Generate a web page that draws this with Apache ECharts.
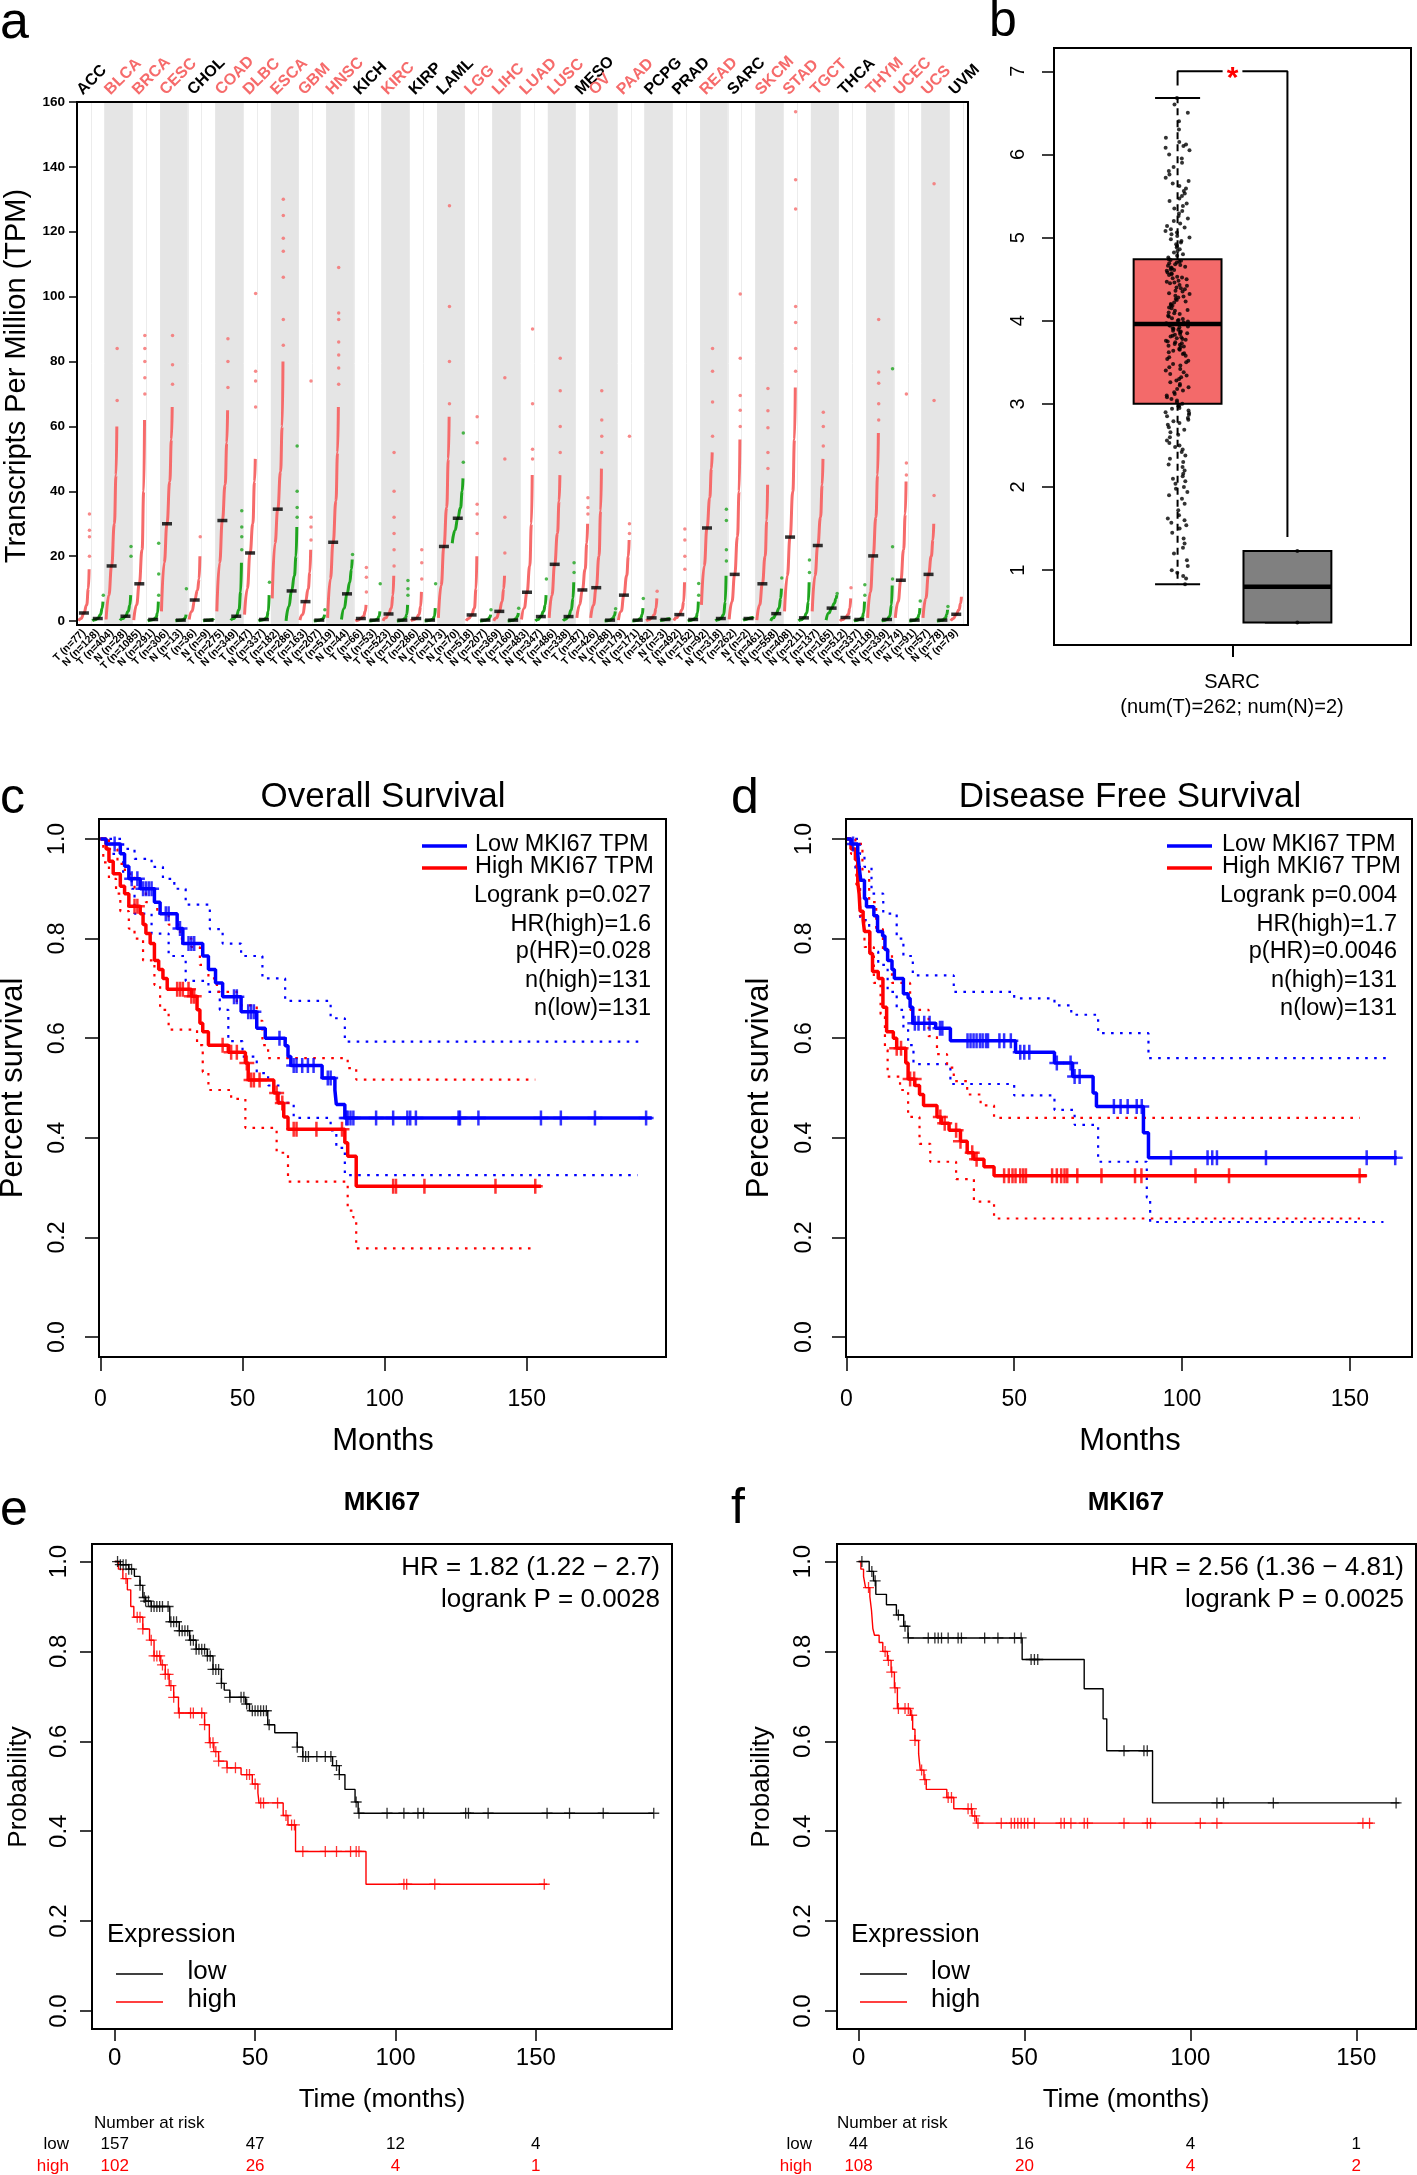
<!DOCTYPE html>
<html><head><meta charset="utf-8">
<script src="https://cdn.jsdelivr.net/npm/echarts@6/dist/echarts.min.js"></script>
<style>html,body{margin:0;padding:0;background:#fff}#c{width:1417px;height:2175px}</style>
</head><body><div id="c"></div>
<script>
// ---------------- DATA ----------------
const cancers = ['ACC','BLCA','BRCA','CESC','CHOL','COAD','DLBC','ESCA','GBM','HNSC','KICH','KIRC','KIRP','LAML','LGG','LIHC','LUAD','LUSC','MESO','OV','PAAD','PCPG','PRAD','READ','SARC','SKCM','STAD','TGCT','THCA','THYM','UCEC','UCS','UVM'];
const cancerHighlighted = [0,1,1,1,0,1,1,1,1,1,0,1,0,0,1,1,1,1,0,1,1,0,0,1,0,1,1,1,0,1,1,1,0];
const cancerColumns = [2,2,2,2,2,2,2,2,2,2,2,2,2,2,2,2,2,2,1,2,2,2,2,2,2,2,2,2,2,2,2,2,1];
const sampleLabels = ['T (n=77)','N (n=128)','T (n=404)','N (n=28)','T (n=1085)','N (n=291)','T (n=306)','N (n=13)','T (n=36)','N (n=9)','T (n=275)','N (n=349)','T (n=47)','N (n=337)','T (n=182)','N (n=286)','T (n=163)','N (n=207)','T (n=519)','N (n=44)','T (n=66)','N (n=53)','T (n=523)','N (n=100)','T (n=286)','N (n=60)','T (n=173)','N (n=70)','T (n=518)','N (n=207)','T (n=369)','N (n=160)','T (n=483)','N (n=347)','T (n=486)','N (n=338)','T (n=87)','T (n=426)','N (n=88)','T (n=179)','N (n=171)','T (n=182)','N (n=3)','T (n=492)','N (n=152)','T (n=92)','N (n=318)','T (n=262)','N (n=2)','T (n=461)','N (n=558)','T (n=408)','N (n=211)','T (n=137)','N (n=165)','T (n=512)','N (n=337)','T (n=118)','N (n=339)','T (n=174)','N (n=91)','T (n=57)','N (n=78)','T (n=79)'];
const quantLevels = [0, 0.25, 0.5, 0.75, 0.9, 0.97];
const colQuantiles = [
[0.1,0.8,2.5,5,10,16],[0.1,0.4,0.8,2,4,6],[0.5,8,17,30,45,60],[0.2,0.8,1.5,3,5,8],
[0.3,5,11.5,22,40,62],[0.1,0.3,0.5,1,2.5,6],[3,18,30,43,56,66],[0.1,0.2,0.3,0.5,1,2],
[0.5,3,6.5,9.5,13,20],[0.1,0.2,0.3,0.4,0.6,0.8],[3,18,31,42,55,65],[0.2,0.8,1.5,3.5,9,18],
[2,10,21,30,43,50],[0.1,0.3,0.5,1,3,8],[7,24,34.5,46,60,80],[0.1,4.5,9.3,14,20,29],
[0.3,2,6,10,15,22],[0.05,0.1,0.3,0.6,1,2],[1,13,24.3,37,52,66],[0.5,4,8.4,12,16,19],
[0.1,0.3,0.8,1.5,3,5],[0.05,0.1,0.3,0.6,1.5,3],[0.1,1,2.2,4,8,14],[0.05,0.1,0.3,0.8,2,5],
[0.1,0.4,0.8,2,4.5,9],[0.05,0.1,0.3,0.6,1.5,4],[1,11,23,35,50,63],[24,28,31.7,35,40,44],
[0.1,0.8,1.9,4,10,20],[0.05,0.1,0.3,0.6,1.2,2],[0.1,1,3,6,10,14],[0.05,0.1,0.3,0.7,1.5,2.5],
[0.5,4,8.9,17,30,45],[0.1,0.5,1.4,3,5,8],[1,8,17.5,27,37,45],[0.1,0.6,1.4,3.5,7,12],
[1,5,9.6,16,24,30],[1,5,10.3,20,34,47],[0.05,0.1,0.3,0.8,1.8,3],[0.3,3,8,14,20,25],
[0.05,0.1,0.3,0.8,2,4],[0.1,0.4,1,2,4,7],[0.2,0.3,0.5,0.7,0.8,0.9],[0.2,1,2,3.5,6,12],
[0.05,0.2,0.5,1,2.5,6],[5,17,28.7,38,47,52],[0.1,0.4,0.8,2,6,14],[0.5,6,14.4,26,40,56],
[0.3,0.5,0.8,1,1.2,1.3],[0.3,5,11.5,20,31,42],[0.1,1,2.3,4,7,10],[3,14,25.9,40,56,72],
[0.1,0.4,1,2.5,6,12],[3,14,23.3,32,42,50],[0.3,2.5,4,5.5,7,8],[0.05,0.5,1.1,2,4,7],
[0.05,0.2,0.5,1,2.5,6],[1,9,20.1,32,45,58],[0.05,0.2,0.5,1.5,5,11],[1,6,12.6,22,33,43],
[0.05,0.1,0.3,0.8,2,4],[1,7,14.4,20,25,30],[0.05,0.1,0.3,0.8,2,3.5],[0.1,0.8,2.1,3.5,5.5,7.5]
];
const colOutliers = [[20,26,28,33],[8],[68,84],[20,23],[70,75,80,84,88],[8,14.5,24],[73,79,88],[10],[26],[],[72,80,87],[22,26,29,34],[66,74,77,101],[12],[85,93,106,114,118,125,130],[32,35,40,54],[25,29,32,74],[3.5],[73,78,82,86,93,95,109],[20.5],[9,13.5,16.5],[11.5],[17,22,27,32,40,52],[8,10,12.5],[13,18,22],[11.5],[67,80,97,128],[49,58],[27,33,36,55,63],[3.5],[21,32,50,75],[4],[50,53,67,90],[13],[52,60,71,81],[15,18],[33,35,38],[52,57,62,71],[3.8],[27,30,57],[7],[9.2],[],[16,20,25,28.4],[8,11.6],[57,67.5,77,84],[18.5,22,31,34.5],[60,65,69.5,81,100.8],[],[47,52,59.6,64.8,71.7],[13.3],[77,84,92,97,127,136,157],[15,18.8],[54,60,64.4],[8.5],[10.3],[8,11.2],[62,67,73.3,76.8,93],[13,22.9,77.8],[45,48.7,70],[6.2],[38.7,68,134.8],[4.5],[]];
const tpmTicks = [0,20,40,60,80,100,120,140,160];

// panel b
const log2Ticks = [1,2,3,4,5,6,7];
const boxStats = [[1,0.83,3.0,3.96,4.74,6.68],[2,0.37,0.37,0.8,1.23,1.23]];
const sarcTumor = [0.83,0.9,0.93,0.97,1.0,1.05,1.12,1.2,1.27,1.32,1.38,1.45,1.5,1.54,1.57,1.6,1.62,1.66,1.72,1.8,1.86,1.9,1.94,1.98,2.0,2.04,2.07,2.1,2.13,2.16,2.2,2.24,2.27,2.3,2.34,2.38,2.42,2.45,2.48,2.5,2.53,2.56,2.6,2.63,2.66,2.69,2.72,2.75,2.77,2.79,2.81,2.83,2.85,2.87,2.89,2.9,2.92,2.94,2.95,2.97,2.98,3.0,
3.02,3.04,3.06,3.08,3.1,3.12,3.14,3.16,3.18,3.2,3.22,3.24,3.26,3.28,3.3,3.32,3.34,3.36,3.38,3.4,3.42,3.44,3.46,3.48,3.5,3.52,3.54,3.56,3.58,3.6,3.61,3.62,3.64,3.65,3.66,3.68,3.69,3.7,3.71,3.72,3.73,3.74,3.75,3.76,3.77,3.78,3.79,3.8,3.81,3.82,3.83,3.84,3.85,3.86,3.87,3.88,3.89,3.9,3.91,3.92,3.93,3.94,3.95,3.96,
3.97,3.98,3.99,4.0,4.01,4.02,4.03,4.05,4.06,4.08,4.09,4.1,4.12,4.13,4.15,4.16,4.18,4.19,4.2,4.22,4.23,4.25,4.26,4.28,4.29,4.3,4.32,4.33,4.35,4.36,4.38,4.39,4.4,4.42,4.43,4.45,4.46,4.47,4.48,4.5,4.51,4.52,4.53,4.55,4.56,4.57,4.58,4.6,4.61,4.62,4.63,4.64,4.65,4.66,4.67,4.68,4.69,4.7,4.71,4.72,4.73,4.74,
4.76,4.78,4.8,4.82,4.84,4.86,4.88,4.9,4.92,4.94,4.96,4.98,5.0,5.02,5.04,5.06,5.08,5.1,5.12,5.14,5.17,5.2,5.23,5.26,5.29,5.32,5.35,5.38,5.41,5.44,5.47,5.5,5.53,5.56,5.59,5.62,5.65,5.68,5.72,5.76,5.8,5.85,5.9,5.95,6.0,6.05,6.08,6.1,6.12,6.15,6.2,6.3,6.4,6.5,6.6,6.68];
const sarcNormal = [1.23,0.37];
const bracketTop = 7, bracketEnds = [6.83, 1.4];

// panels c-f (steps: [month, survival after event])
const monthTicks = [0,50,100,150];
const probTicks = [0,0.2,0.4,0.6,0.8,1.0];
const osLow = [[0,1],[2,0.99],[7,0.97],[8.5,0.945],[10,0.92],[14,0.9],[19,0.873],[21,0.85],[27,0.82],[29,0.79],[36,0.765],[38,0.738],[40.5,0.711],[43,0.683],[49.5,0.653],[55,0.62],[58,0.6],[65,0.585],[66,0.563],[67,0.545],[78,0.52],[82.5,0.496],[83,0.467],[86,0.44],[194,0.44]];
const osLowCensor = [5,11,13,15,16,17,18,23,24,28,31,32,33,47,48,52,53,54,63,68,69,71,73,75,80,81,86.5,87,88,89,97,103,108,109,111,126,126.5,133,155,162,174,192];
const osLowUpper = [[0,1],[8,0.98],[12,0.96],[18,0.944],[22,0.92],[26,0.9],[30,0.868],[38.5,0.819],[43,0.79],[49.5,0.765],[57,0.72],[65,0.675],[81,0.64],[86,0.593],[191,0.593]];
const osLowLower = [[0,1],[3,0.97],[8,0.93],[11,0.9],[12,0.85],[18,0.81],[24,0.765],[30,0.715],[38,0.693],[42,0.657],[45,0.594],[50,0.563],[55,0.53],[59,0.505],[63,0.47],[68,0.44],[81,0.415],[83,0.38],[86,0.325],[189,0.325]];
const osHigh = [[0,1],[2,0.98],[3,0.955],[4.5,0.93],[7,0.905],[8.5,0.89],[10,0.865],[14,0.85],[15,0.828],[16,0.81],[17.5,0.79],[19,0.756],[20.5,0.738],[22,0.72],[23.5,0.698],[32,0.684],[34,0.657],[35,0.63],[36,0.613],[38,0.586],[45,0.572],[51,0.55],[52,0.516],[61,0.49],[62.5,0.47],[64.5,0.442],[66,0.417],[86,0.39],[87,0.363],[90,0.303],[155,0.303]];
const osHighCensor = [12,13,27,28,29,31,32,33,43,46,48,51.5,53,54,56,62,64,68,69,76,85,103,104,114,139,153];
const osHighUpper = [[0,1],[3,0.98],[6,0.95],[8.6,0.93],[12,0.9],[16,0.873],[20,0.85],[24,0.828],[28,0.8],[32,0.783],[35,0.747],[38,0.72],[41,0.693],[48,0.666],[55,0.635],[57,0.586],[59,0.56],[87,0.54],[90,0.517],[153,0.517]];
const osHighLower = [[0,1],[1,0.953],[3,0.92],[5.5,0.89],[7,0.855],[10,0.82],[12,0.8],[15,0.756],[19,0.707],[21,0.657],[24,0.617],[34,0.586],[36,0.532],[38,0.496],[46,0.478],[51,0.42],[62,0.37],[66,0.312],[87,0.254],[89,0.24],[90,0.178],[153,0.178]];

const dfsLow = [[0,1],[1.4,0.99],[3.4,0.97],[3.8,0.944],[4.3,0.917],[5.4,0.88],[6,0.864],[8.2,0.846],[9.3,0.814],[10.8,0.805],[11.5,0.778],[12.3,0.756],[13.6,0.738],[14.3,0.72],[17,0.689],[18.4,0.68],[19,0.662],[19.8,0.63],[26.6,0.62],[31,0.595],[50.4,0.572],[62,0.55],[67.4,0.523],[73.5,0.49],[74.5,0.463],[88.5,0.41],[90,0.36],[164,0.36]];
const dfsLowCensor = [2,20.4,21.5,23.2,24.8,27.9,28.6,36.1,37,37.9,38.8,39.8,40.6,41.6,42.2,45.6,47,49,51.8,53,54.5,62.7,66.8,68,69.5,79.7,81.7,83.8,86.5,88,96.7,107.6,109,110.4,125,155,163.5];
const dfsLowUpper = [[0,1],[4.1,0.97],[5.4,0.944],[7.5,0.89],[11,0.85],[15,0.8],[17,0.765],[19.8,0.726],[32,0.693],[50,0.68],[62,0.666],[67,0.647],[75,0.61],[90,0.56],[161,0.56]];
const dfsLowLower = [[0,1],[1.4,0.98],[2.7,0.93],[4.1,0.837],[6.8,0.774],[9.5,0.747],[12.3,0.693],[15,0.657],[17,0.62],[18.4,0.586],[20,0.548],[31,0.508],[50,0.485],[62,0.456],[68,0.426],[75,0.352],[89.5,0.28],[90.5,0.231],[160,0.231]];
const dfsHigh = [[0,1],[1.4,0.98],[2.7,0.958],[3.4,0.913],[3.8,0.89],[4.1,0.855],[5,0.837],[5.4,0.814],[7,0.77],[7.8,0.734],[9.5,0.72],[10.9,0.662],[12,0.613],[14,0.6],[15,0.58],[17.7,0.55],[18.4,0.518],[20.4,0.505],[21.8,0.487],[23,0.465],[27,0.442],[28.3,0.429],[30.6,0.415],[34,0.393],[36,0.37],[38,0.357],[41,0.342],[44,0.324],[155,0.324]];
const dfsHighCensor = [15,16.3,19,20.2,28,29.3,32.7,34,37.5,38.8,47,48.4,49.5,50.4,51.8,52.7,53.5,61.3,62.7,64,65,65.8,68.8,76,86,87.9,104,114,152.9];
const dfsHighUpper = [[0,1],[2.7,0.99],[4.8,0.935],[6.8,0.873],[8.9,0.819],[10.9,0.774],[13.6,0.711],[19,0.657],[24.5,0.604],[27,0.568],[30,0.541],[32,0.514],[36,0.487],[40,0.465],[44,0.44],[153,0.44]];
const dfsHighLower = [[0,1],[1.4,0.97],[3,0.908],[4,0.846],[5.4,0.783],[8.2,0.711],[10.2,0.648],[11.5,0.577],[12.3,0.523],[16,0.496],[18.4,0.442],[21.8,0.388],[25,0.352],[32.7,0.317],[38,0.272],[44,0.238],[153,0.238]];

const eLow = [[0,1],[2,0.993],[5,0.983],[7,0.967],[9,0.947],[10,0.92],[11,0.912],[13,0.9],[19.6,0.866],[23,0.846],[26.7,0.825],[29,0.805],[33,0.79],[35,0.76],[38,0.729],[39,0.714],[41,0.698],[46.6,0.683],[48,0.668],[54.5,0.637],[57,0.619],[65,0.587],[67,0.566],[77.6,0.546],[80,0.526],[82,0.493],[85.6,0.465],[86.7,0.44],[192,0.44]];
const eLowCensor = [1,2,3,4,5,6,9,10.5,11,12,13,14,15,16,17,19,20,21,22,23,24,25,26,27,28,29,30,31,32,33,34,35,36,37,38,41,45,46,47,49,50,51,52,53,54,55,65,67,68,69,72,75,77,79,80,86,87,97,103,108,110,125,126,133,154,162,174,192];
const eHigh = [[0,1],[1.3,0.983],[2.9,0.962],[4.5,0.937],[5.7,0.9],[6.8,0.876],[10,0.85],[12.4,0.825],[14,0.79],[16.4,0.77],[18,0.749],[19.4,0.724],[21,0.698],[22.7,0.663],[32,0.637],[33.7,0.597],[35.3,0.577],[37,0.556],[40,0.541],[45,0.526],[49,0.505],[51,0.485],[51.4,0.463],[60,0.435],[61.7,0.414],[64.4,0.355],[89.5,0.282],[154,0.282]];
const eHighCensor = [4,8,9,10,13,14,15,16,17,18,19,20,21,23,27,28,31,32,34,35,36,37,40,43,47,48,50,52,53,58,61,63,64,67,75,79,84,86,87,103,104,114,153];
const eRisk = {low:[157,47,12,4], high:[102,26,4,1]};

const fLow = [[0,1],[3.2,0.978],[4.5,0.957],[5.2,0.927],[8.4,0.904],[11.4,0.881],[13.6,0.856],[14.9,0.83],[49.3,0.782],[68,0.717],[73.7,0.65],[74.8,0.579],[88.6,0.463],[163,0.463]];
const fLowCensor = [1,4,5,12,14,15,21,23,24,25,27,30,31,38,42,47,49,52,53,54,80,86,87,108,110,125,162];
const fHigh = [[0,1],[0.7,0.983],[1.5,0.967],[2.1,0.942],[3.4,0.922],[3.9,0.891],[4.3,0.851],[4.8,0.836],[6.2,0.82],[7.3,0.8],[8.7,0.78],[9.8,0.754],[10.8,0.719],[11.7,0.673],[15.6,0.658],[16.3,0.627],[17,0.602],[18.1,0.572],[18.6,0.536],[19.7,0.515],[20.4,0.493],[26.6,0.475],[28.7,0.45],[34.2,0.434],[35.5,0.418],[155,0.418]];
const fHighCensor = [3,8,9,10,11,12,14,15,16,17,19,20,27,28,33,34,35,36,43,46,47,48,49,50,51,53,61,62,64,68,69,80,87,88,103,108,152,154];
const fRisk = {low:[44,16,4,1], high:[108,20,4,2]};

// ---------------- STYLE / LAYOUT ----------------
const FF = "'Liberation Sans', Arial, Helvetica, sans-serif";
const TRED = '#F66B6B', TGREEN = '#1FA51F', BLUE = '#0000FF', RED = '#FF0000';
const grids = [
  {left:77, top:102, width:891, height:523},
  {left:1054, top:48, width:357, height:597},
  {left:99, top:819, width:567, height:538},
  {left:846, top:819, width:566, height:538},
  {left:92, top:1544, width:580, height:485},
  {left:837, top:1544, width:579, height:485}
];
const chart = echarts.init(document.getElementById('c'), null, {renderer:'canvas', width:1417, height:2175});

function kmX(gi, min, max, margin, fs, tl) {
  return {gridIndex:gi, type:'value', min, max, axisLine:{show:false, onZero:false},
    axisTick:{show:true, length:tl, lineStyle:{color:'#000', width:1.5}, customValues:monthTicks},
    axisLabel:{customValues:monthTicks, margin, fontSize:fs, color:'#000', fontFamily:FF},
    splitLine:{show:false}};
}
function kmY(gi, min, max, margin, fs, tl) {
  return {gridIndex:gi, type:'value', min, max, axisLine:{show:false, onZero:false},
    axisTick:{show:true, length:tl, lineStyle:{color:'#000', width:1.5}, customValues:probTicks},
    axisLabel:{customValues:probTicks, margin, fontSize:fs, color:'#000', fontFamily:FF, rotate:90, formatter:v=>Number(v).toFixed(1)},
    splitLine:{show:false}};
}
const xAxes = [
  {gridIndex:0, type:'value', min:0, max:64.35, interval:1, axisLine:{show:false, onZero:false}, axisTick:{show:false}, axisLabel:{show:false}, splitLine:{show:true, lineStyle:{color:'#ececec', width:1}}},
  {gridIndex:1, type:'value', min:-0.125, max:3.125, axisLine:{show:false, onZero:false}, axisTick:{show:true, length:12, lineStyle:{color:'#000', width:2}, customValues:[1.5]}, axisLabel:{show:false}, splitLine:{show:false}},
  kmX(2, -0.5, 199, 31, 23, 14), kmX(3, -0.1, 168.5, 31, 23, 14),
  kmX(4, -8.1, 198.5, 17, 24, 12), kmX(5, -6.5, 168, 17, 24, 12)
];
const yAxes = [
  {gridIndex:0, type:'value', min:-1.2, max:160, axisLine:{show:false, onZero:false},
   axisTick:{show:true, length:8, lineStyle:{color:'#000', width:1.5}, customValues:tpmTicks},
   axisLabel:{customValues:tpmTicks, margin:12, fontSize:13.5, fontWeight:'bold', color:'#000', fontFamily:FF}, splitLine:{show:false}},
  {gridIndex:1, type:'value', min:0.1, max:7.28, axisLine:{show:false, onZero:false},
   axisTick:{show:true, length:12, lineStyle:{color:'#000', width:1.5}, customValues:log2Ticks},
   axisLabel:{customValues:log2Ticks, margin:26, fontSize:20, color:'#000', fontFamily:FF, rotate:90}, splitLine:{show:false}},
  kmY(2, -0.04, 1.04, 29.5, 23, 14), kmY(3, -0.04, 1.04, 29.5, 23, 14),
  kmY(4, -0.04, 1.039, 21, 24, 12), kmY(5, -0.04, 1.039, 22, 24, 12)
];

const series = [];
// panel a: background bands
const bandData = []; { let c0 = 0; cancerColumns.forEach((n, i) => { bandData.push([c0, c0 + n, i % 2]); c0 += n; }); }
series.push({type:'custom', xAxisIndex:0, yAxisIndex:0, silent:true, z:1, data:bandData,
  renderItem:(params, api) => {
    if (!api.value(2)) return null;
    const p1 = api.coord([api.value(0), 160]), p2 = api.coord([api.value(1), -1.2]);
    return {type:'rect', shape:{x:p1[0], y:p1[1], width:p2[0]-p1[0], height:p2[1]-p1[1]}, style:{fill:'#e5e5e5'}};
  }});
// panel a: sorted expression curves
const tumorOut = [], normalOut = [], medians = [];
colQuantiles.forEach((qs, j) => {
  const isT = sampleLabels[j][0] === 'T';
  const col = isT ? TRED : TGREEN;
  series.push({type:'line', xAxisIndex:0, yAxisIndex:0, silent:true, z:3, symbol:'none', smooth:true, smoothMonotone:'x',
    data: quantLevels.map((q, k) => [j + 0.1 + 0.8 * q, qs[k]]),
    lineStyle:{color:col, width:3}});
  colOutliers[j].forEach(v => (isT ? tumorOut : normalOut).push([j + 0.9, v]));
  medians.push([j + 0.5, qs[2]]);
});
series.push({type:'scatter', xAxisIndex:0, yAxisIndex:0, silent:true, z:3, data:tumorOut, symbolSize:3.5, itemStyle:{color:TRED}});
series.push({type:'scatter', xAxisIndex:0, yAxisIndex:0, silent:true, z:3, data:normalOut, symbolSize:3.5, itemStyle:{color:TGREEN}});
series.push({type:'scatter', xAxisIndex:0, yAxisIndex:0, silent:true, z:5, data:medians, symbol:'rect', symbolSize:[10,3.5], itemStyle:{color:'#000'}});

// panel b: boxes
const boxFill = ['#F36A6A', '#808080'];
series.push({type:'custom', xAxisIndex:1, yAxisIndex:1, silent:true, z:3, data:boxStats,
  renderItem:(params, api) => {
    const x = api.value(0);
    const lo = api.coord([x, api.value(1)]), q1 = api.coord([x, api.value(2)]), md = api.coord([x, api.value(3)]), q3 = api.coord([x, api.value(4)]), hi = api.coord([x, api.value(5)]);
    const w = api.size([0.8, 0])[0], cw = api.size([0.41, 0])[0], cx = q1[0];
    const ls = {stroke:'#000', lineWidth:2};
    return {type:'group', children:[
      {type:'line', shape:{x1:cx, y1:q3[1], x2:cx, y2:hi[1]}, style:{stroke:'#000', lineWidth:2, lineDash:[7,5]}},
      {type:'line', shape:{x1:cx, y1:q1[1], x2:cx, y2:lo[1]}, style:{stroke:'#000', lineWidth:2, lineDash:[7,5]}},
      {type:'line', shape:{x1:cx-cw/2, y1:hi[1], x2:cx+cw/2, y2:hi[1]}, style:ls},
      {type:'line', shape:{x1:cx-cw/2, y1:lo[1], x2:cx+cw/2, y2:lo[1]}, style:ls},
      {type:'rect', shape:{x:cx-w/2, y:q3[1], width:w, height:q1[1]-q3[1]}, style:{fill:boxFill[params.dataIndex], stroke:'#000', lineWidth:2}},
      {type:'line', shape:{x1:cx-w/2, y1:md[1], x2:cx+w/2, y2:md[1]}, style:{stroke:'#000', lineWidth:4.5}}
    ]};
  }});
// deterministic jitter (horizontal spread only, like R's jitter)
const frac = v => v - Math.floor(v);
const jit = i => (frac(Math.sin(i * 78.233 + 1.7) * 43758.5453) - 0.5) * 0.22;
series.push({type:'scatter', xAxisIndex:1, yAxisIndex:1, silent:true, z:4, symbolSize:4, itemStyle:{color:'#000'},
  data: sarcTumor.map((v, i) => [1 + jit(i), v]).concat(sarcNormal.map(v => [2.09, v]))});
series.push({type:'line', xAxisIndex:1, yAxisIndex:1, silent:true, z:4, symbol:'none', lineStyle:{color:'#000', width:2},
  data:[[1, bracketEnds[0]], [1, bracketTop], [1.41, bracketTop]]});
series.push({type:'line', xAxisIndex:1, yAxisIndex:1, silent:true, z:4, symbol:'none', lineStyle:{color:'#000', width:2},
  data:[[1.59, bracketTop], [2, bracketTop], [2, bracketEnds[1]]]});

// KM panels
function survAt(steps, t) { let s = steps[0][1]; for (const p of steps) { if (p[0] <= t) s = p[1]; else break; } return s; }
const PLUS_THICK = 'path://M5,0h2v5h5v2h-5v5h-2v-5h-5v-2h5z';
const PLUS_THIN = 'path://M7.5,0h2v7.5h7.5v2h-7.5v7.5h-2v-7.5h-7.5v-2h7.5z';
function km(gi, steps, color, width, dash, z) {
  series.push({type:'line', xAxisIndex:gi, yAxisIndex:gi, data:steps, step:'end', symbol:'none', silent:true, z:z || 3,
    lineStyle:{color, width, type:dash || 'solid', cap:'butt'}});
}
function cens(gi, steps, times, color, size, path) {
  series.push({type:'scatter', xAxisIndex:gi, yAxisIndex:gi, silent:true, z:5, symbol:path, symbolSize:size, itemStyle:{color},
    data: times.map(t => [t, survAt(steps, t)])});
}
const DOT = [2.6, 6.4];
km(2, osLowUpper, BLUE, 2.2, DOT); km(2, osLowLower, BLUE, 2.2, DOT);
km(2, osHighUpper, RED, 2.2, DOT); km(2, osHighLower, RED, 2.2, DOT);
km(2, osHigh, RED, 3.5); km(2, osLow, BLUE, 3.5, null, 4);
cens(2, osHigh, osHighCensor, RED, 15, PLUS_THICK); cens(2, osLow, osLowCensor, BLUE, 15, PLUS_THICK);
km(3, dfsLowUpper, BLUE, 2.2, DOT); km(3, dfsLowLower, BLUE, 2.2, DOT);
km(3, dfsHighUpper, RED, 2.2, DOT); km(3, dfsHighLower, RED, 2.2, DOT);
km(3, dfsHigh, RED, 3.5); km(3, dfsLow, BLUE, 3.5, null, 4);
cens(3, dfsHigh, dfsHighCensor, RED, 15, PLUS_THICK); cens(3, dfsLow, dfsLowCensor, BLUE, 15, PLUS_THICK);
km(4, eHigh, RED, 1.4); km(4, eLow, '#000', 1.4);
cens(4, eHigh, eHighCensor, RED, 11, PLUS_THIN); cens(4, eLow, eLowCensor, '#000', 11, PLUS_THIN);
km(5, fHigh, RED, 1.4); km(5, fLow, '#000', 1.4);
cens(5, fHigh, fHighCensor, RED, 11, PLUS_THIN); cens(5, fLow, fLowCensor, '#000', 11, PLUS_THIN);

chart.setOption({animation:false, backgroundColor:'#fff',
  grid: grids.map(g => Object.assign({containLabel:false, show:false}, g)),
  xAxis: xAxes, yAxis: yAxes, series});

// ---------------- TEXT / FRAMES ----------------
const G = [];
function txt(text, x, y, size, opts) {
  opts = opts || {};
  G.push({type:'text', x, y, rotation:opts.rot || 0, z:100, silent:true,
    style:{text, fontSize:size, fontFamily:FF, fontWeight:opts.bold ? 'bold' : 'normal', fill:opts.color || '#000',
      align:opts.align || 'center', verticalAlign:opts.va || 'middle'}});
}
function hline(x1, x2, y, color, w) { G.push({type:'line', z:100, silent:true, shape:{x1, y1:y, x2, y2:y}, style:{stroke:color, lineWidth:w}}); }
grids.forEach(g => G.push({type:'rect', z:99, silent:true, shape:{x:g.left, y:g.top, width:g.width, height:g.height}, style:{fill:'none', stroke:'#000', lineWidth:2}}));

// panel letters
txt('a', 0, 24, 52, {align:'left'}); txt('b', 989, 22, 50, {align:'left'});
txt('c', 0, 799, 50, {align:'left'}); txt('d', 731, 799, 50, {align:'left'});
txt('e', 0, 1511, 50, {align:'left'}); txt('f', 731, 1509, 50, {align:'left'});

// panel a labels
txt('Transcripts Per Million (TPM)', 17, 376, 29, {rot:Math.PI/2});
{ let c0 = 0; cancers.forEach((c, i) => {
    const p = chart.convertToPixel({gridIndex:0}, [c0 + 0.6, 160]);
    txt(c, p[0], p[1] - 4, 16, {rot:Math.PI/4, bold:true, align:'left', va:'bottom', color: cancerHighlighted[i] ? TRED : '#000'});
    c0 += cancerColumns[i]; }); }
sampleLabels.forEach((s, j) => {
  const p = chart.convertToPixel({gridIndex:0}, [j + 0.5, -1.2]);
  txt(s, p[0], p[1] + 6, 10.5, {rot:Math.PI/4, bold:true, align:'right', va:'middle'});
});

// panel b labels
txt('SARC', 1232, 682, 20); txt('(num(T)=262; num(N)=2)', 1232, 707, 20);
{ const p = chart.convertToPixel({gridIndex:1}, [1.5, bracketTop]); txt('*', p[0], p[1] + 7, 30, {bold:true, color:RED}); }

// panels c/d
[[2, 383, 'Overall Survival', 422, 475, 651, ['Logrank p=0.027','HR(high)=1.6','p(HR)=0.028','n(high)=131','n(low)=131'], 13],
 [3, 1130, 'Disease Free Survival', 1167, 1222, 1397, ['Logrank p=0.004','HR(high)=1.7','p(HR)=0.0046','n(high)=131','n(low)=131'], 759]
].forEach(([gi, cx, title, lx, tx, rx, lines, ylx]) => {
  txt(title, cx, 797, 35);
  txt('Months', cx, 1441, 31);
  txt('Percent survival', ylx, 1088, 31, {rot:Math.PI/2});
  hline(lx, lx + 45, 846, BLUE, 3.5); hline(lx, lx + 45, 868, RED, 3.5);
  txt('Low MKI67 TPM', tx, 845, 23.5, {align:'left'}); txt('High MKI67 TPM', tx, 867, 23.5, {align:'left'});
  const ys = [896, 924.5, 952, 981, 1009];
  lines.forEach((l, k) => txt(l, rx, ys[k], 23.5, {align:'right'}));
});

// panels e/f
[[4, 382, 660, 107, 116, 187.5, 94, 69, 'HR = 1.82 (1.22 \u2212 2.7)', 'logrank P = 0.0028', eRisk, 19],
 [5, 1126, 1404, 851, 860, 931, 837, 812, 'HR = 2.56 (1.36 \u2212 4.81)', 'logrank P = 0.0025', fRisk, 762]
].forEach(([gi, cx, hrx, ex, lx, ltx, nx, rlx, hr, lr, risk, ylx]) => {
  txt('MKI67', cx, 1503, 26, {bold:true});
  txt(hr, hrx, 1568, 26, {align:'right'}); txt(lr, hrx, 1600, 26, {align:'right'});
  txt('Expression', ex, 1935, 26, {align:'left'});
  hline(lx, lx + 47, 1974, '#000', 1.5); hline(lx, lx + 47, 2002, RED, 1.5);
  txt('low', ltx, 1972, 26, {align:'left'}); txt('high', ltx, 2000, 26, {align:'left'});
  txt('Time (months)', cx, 2100, 26);
  txt('Probability', ylx, 1787, 26, {rot:Math.PI/2});
  txt('Number at risk', nx, 2123, 17, {align:'left'});
  txt('low', rlx, 2144, 17, {align:'right'}); txt('high', rlx, 2166, 17, {align:'right', color:RED});
  monthTicks.forEach((m, k) => {
    const px = chart.convertToPixel({gridIndex:gi}, [m, 0])[0];
    txt(String(risk.low[k]), px, 2144, 17); txt(String(risk.high[k]), px, 2166, 17, {color:RED});
  });
});

chart.setOption({graphic:{elements:G}});
</script></body></html>
